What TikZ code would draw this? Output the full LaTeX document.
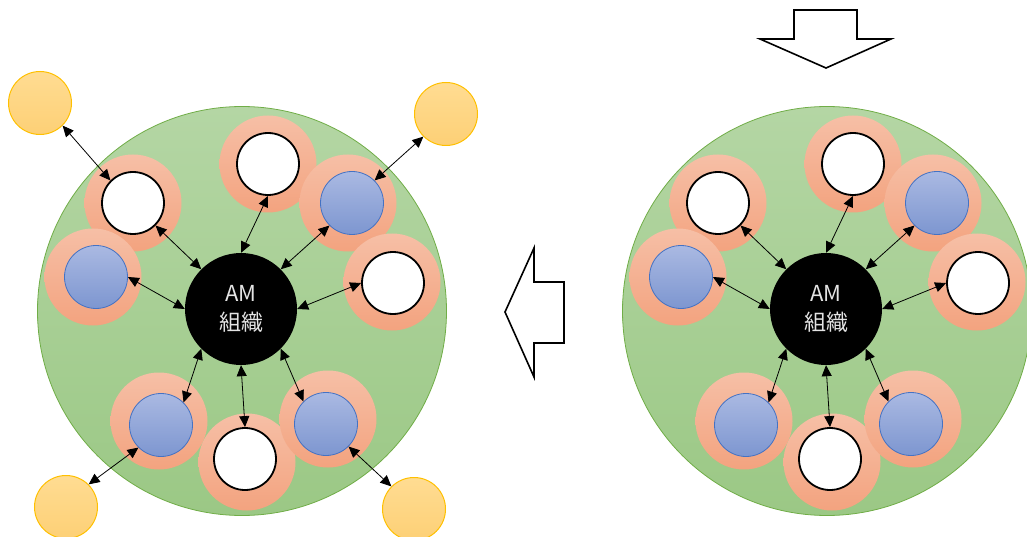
\documentclass[tikz,border=0pt]{standalone}
\usepackage{fontspec}
\newfontfamily\jpfont{Noto Sans CJK JP}
\usepackage{tikz}
\usetikzlibrary{arrows.meta}
\definecolor{grouplight}{RGB}{180,214,164}
\definecolor{groupdark}{RGB}{155,200,133}
\definecolor{groupedge}{RGB}{112,173,71}
\definecolor{ringlight}{RGB}{246,191,166}
\definecolor{ringdark}{RGB}{243,163,127}
\definecolor{memberlight}{RGB}{170,185,226}
\definecolor{memberdark}{RGB}{125,150,208}
\definecolor{memberedge}{RGB}{68,114,196}
\definecolor{partnerlight}{RGB}{255,220,146}
\definecolor{partnerdark}{RGB}{253,208,118}
\definecolor{partneredge}{RGB}{255,192,0}
\definecolor{labelgrey}{RGB}{228,228,228}
\tikzset{
  groupdisc/.style={circle,inner sep=0pt,minimum size=409pt,draw=groupedge,
    line width=0.8pt,top color=grouplight,bottom color=groupdark},
  core/.style={circle,inner sep=0pt,minimum size=112pt,fill=black,
    text=labelgrey,align=center,font=\jpfont\fontsize{22}{29}\selectfont},
  ring/.style={circle,inner sep=0pt,minimum size=97pt,
    top color=ringlight,bottom color=ringdark},
  vacant/.style={circle,inner sep=0pt,minimum size=62pt,draw=black,
    line width=1.8pt,fill=white},
  member/.style={circle,inner sep=0pt,minimum size=63pt,draw=memberedge,
    line width=0.8pt,top color=memberlight,bottom color=memberdark},
  partner/.style={circle,inner sep=0pt,minimum size=63pt,draw=partneredge,
    line width=1pt,top color=partnerlight,bottom color=partnerdark},
  link/.style={{Triangle[length=11pt,width=10pt]}-{Triangle[length=11pt,width=10pt]},
    line width=0.8pt},
  blockarrow/.style={draw=black,line width=1.6pt,fill=white,line join=miter}
}

\begin{document}
\begin{tikzpicture}[x=1pt,y=-1pt]
  \useasboundingbox (0,0) rectangle (1027,537);
  % the same group twice, shifted to the right
  \foreach \g/\dx in {L/0,R/585}{
    \begin{scope}[shift={(\dx,0)}]
      \node[groupdisc] (disc\g) at (242,311) {};
      \foreach \i/\x/\y in {1/133/203,2/268/164,3/348/203,4/392/282,
          5/93/277,6/159/421,7/247/462,8/328/419}
        \node[ring] (ring\g\i) at (\x,\y) {};
      \foreach \i/\x/\y/\kind in {1/133/203/vacant,2/268/164/vacant,
          3/352/203/member,4/393/283/vacant,5/96/277/member,
          6/161/425/member,7/245/459/vacant,8/326/424/member}
        \node[\kind] (seat\g\i) at (\x,\y) {};
      \node[core] (core\g) at (241,309) {AM\\組織};
      \foreach \i/\a/\b in {1/south east/north west,2/south/north,
          3/south west/north east,4/west/east,5/east/west,
          6/north east/south west,7/north/south,8/north west/south east}
        \draw[link] (seat\g\i.\a) -- (core\g.\b);
    \end{scope}
  }
  % outside partners of the left group
  \node[partner] (partnerNW) at (40,103) {};
  \node[partner] (partnerNE) at (446,114) {};
  \node[partner] (partnerSW) at (66,507) {};
  \node[partner] (partnerSE) at (414,509) {};
  \draw[link] (partnerNW.south east) -- (seatL1.north west);
  \draw[link] (partnerNE.south west) -- (seatL3.north east);
  \draw[link] (partnerSW.north east) -- (seatL6.south west);
  \draw[link] (partnerSE.north west) -- (seatL8.south east);
  % block arrows
  \draw[blockarrow] (794,10) -- (857,10) -- (857,39) -- (891,39) -- (826,68)
    -- (760,39) -- (794,39) -- cycle;
  \draw[blockarrow] (505,312) -- (534,248) -- (534,282) -- (564,282)
    -- (564,343) -- (534,343) -- (534,377) -- cycle;
\end{tikzpicture}
\end{document}
